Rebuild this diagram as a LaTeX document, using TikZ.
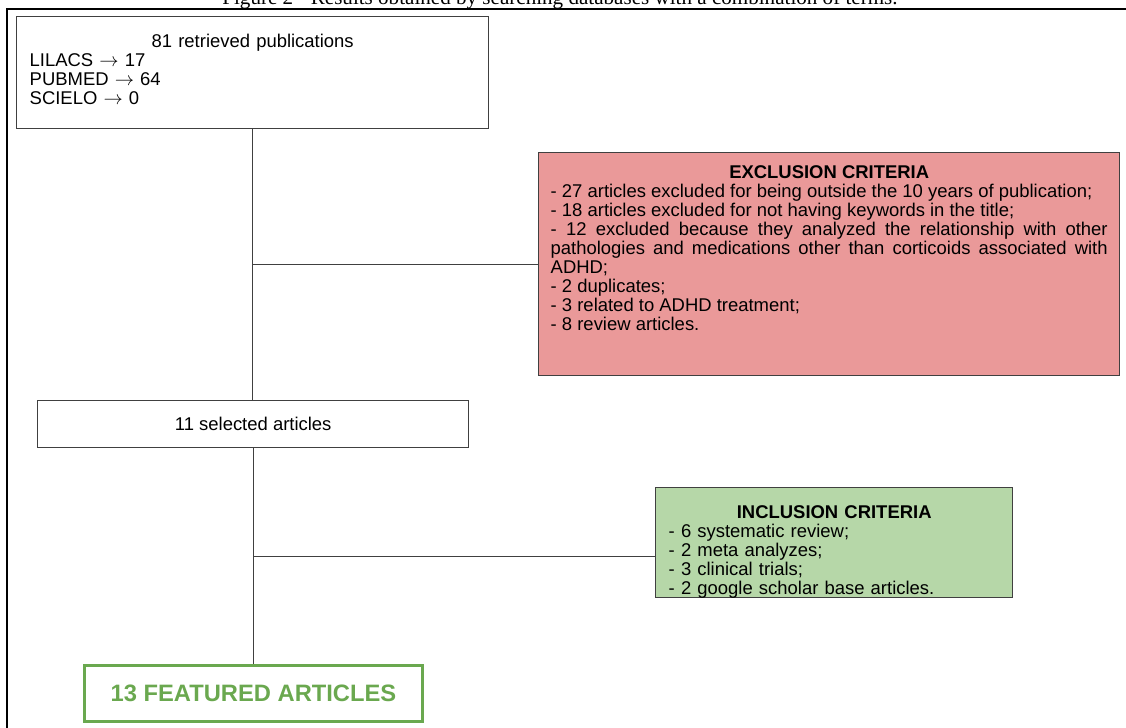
\documentclass[tikz,border=0pt]{standalone}
\usepackage{fontspec}
\setmainfont{Liberation Sans}
\newfontfamily\captionfont{Liberation Serif}
\usetikzlibrary{calc}
\definecolor{exclred}{HTML}{EA9999}
\definecolor{inclgreen}{HTML}{B6D7A8}
\definecolor{featgreen}{HTML}{6AA84F}
\definecolor{linegray}{HTML}{404040}

\begin{document}
\begin{tikzpicture}
	\tikzstyle{every node}+=[inner sep=0pt]
	\tikzstyle{flowbox}=[draw=linegray, line width=0.8pt, anchor=north west]
	\tikzstyle{flowtext}=[font=\fontsize{10.5}{10.8}\selectfont]
	\tikzstyle{link}=[draw=linegray, line width=0.7pt]
	\useasboundingbox (0,0) rectangle (22.52,-14.54);
	\node [anchor=base] (caption) at (11.2,-0.08) {\captionfont\fontsize{12}{14}\selectfont Figure 2 - Results obtained by searching databases with a combination of terms.};
	\draw [black, line width=1.1pt] (0.14,-15) -- (0.14,-0.18) -- (22.6,-0.18);
	% boxes
	\node [flowbox, minimum width=9.44cm, minimum height=2.24cm] (src) at (0.32,-0.32) {};
	\node [flowtext, anchor=north, text width=8.92cm, align=left] (srctxt) at ($(src.north)+(0,-0.36)$)
		{\hfill 81 retrieved publications\hfill\null\\ LILACS $\rightarrow$ 17\\ PUBMED $\rightarrow$ 64\\ SCIELO $\rightarrow$ 0};
	\node [flowbox, fill=exclred, minimum width=11.62cm, minimum height=4.46cm] (excl) at (10.76,-3.04) {};
	\node [flowtext, anchor=north, text width=11.14cm, align=justify] (excltxt) at ($(excl.north)+(0,-0.27)$)
		{{\centering\bfseries EXCLUSION CRITERIA\par}
		- 27 articles excluded for being outside the 10 years of publication;\par
		- 18 articles excluded for not having keywords in the title;\par
		- 12 excluded because they analyzed the relationship with other pathologies and medications other than corticoids associated with ADHD;\par
		- 2 duplicates;\par
		- 3 related to ADHD treatment;\par
		- 8 review articles.};
	\node [flowbox, flowtext, minimum width=8.62cm, minimum height=0.94cm] (sel) at (0.74,-8.0) {11 selected articles};
	\node [flowbox, fill=inclgreen, minimum width=7.14cm, minimum height=2.2cm] (incl) at (13.10,-9.74) {};
	\node [flowtext, anchor=north, text width=6.62cm, align=left] (incltxt) at ($(incl.north)+(0,-0.36)$)
		{{\centering\bfseries INCLUSION CRITERIA\par}
		- 6 systematic review;\\
		- 2 meta analyzes;\\
		- 3 clinical trials;\\
		- 2 google scholar base articles.};
	\node [flowbox, draw=featgreen, line width=1.7pt, minimum width=6.76cm, minimum height=1.12cm, text=featgreen, font=\fontsize{13.5}{16}\selectfont\bfseries] (feat) at (1.66,-13.28) {13 FEATURED ARTICLES};
	% connectors
	\coordinate (j1) at ($(src.south)!0.5!(src.south |- sel.north)$);
	\coordinate (j2) at ($(sel.south)!0.5!(sel.south |- feat.north)$);
	\draw [link] (src.south) -- (src.south |- sel.north);
	\draw [link] (j1) -- (j1 -| excl.west);
	\draw [link] (sel.south) -- (sel.south |- feat.north);
	\draw [link] (j2) -- (j2 -| incl.west);
\end{tikzpicture}
\end{document}
